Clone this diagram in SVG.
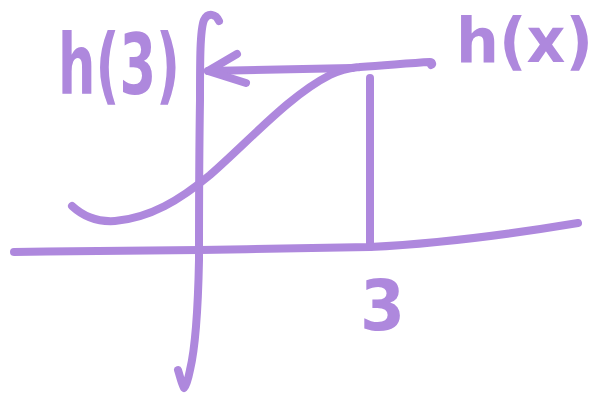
<svg xmlns="http://www.w3.org/2000/svg" width="608" height="398" viewBox="0 0 608 398">
<style>
.m{fill:none;stroke:#ae88dd;stroke-width:8;stroke-linecap:round;stroke-linejoin:round}
.t{fill:#ae88dd;font-family:"DejaVu Sans",sans-serif;font-weight:bold}
</style>
<rect width="608" height="398" fill="#ffffff"/>
<g id="axes">
<path class="m" d="M14,252 C80,251 150,250 200,250 C260,249 330,248 370,247 C430,244 500,236 578,223"/>
<path class="m" d="M219,21 C216,14 208,12 204,20 C200,30 200,60 200,100 C199,160 199,220 199,260 C198,310 196,345 190,370 C188,380 186,386 184,388 C181,382 180,376 178,370"/>
</g>
<g id="curve">
<path class="m" d="M72,206 C85,218 100,222 115,221 C150,218 180,200 210,175 C250,140 290,95 330,75 C345,68 352,68 360,67 C390,65 410,63 430,62 C432,62 433,64 431,65"/>
</g>
<g id="connectors">
<path class="m" d="M370,78 L370,247"/>
<path class="m" d="M352,68 C300,69 250,70 208,71"/>
<path class="m" d="M237,54 L208,71 L246,83"/>
</g>
<g id="labels">
<text class="t" x="58" y="94" font-size="84" textLength="122" lengthAdjust="spacingAndGlyphs">h(3)</text>
<text class="t" x="456" y="62" font-size="62" textLength="137" lengthAdjust="spacingAndGlyphs">h(x)</text>
<text class="t" x="360" y="330" font-size="70" textLength="45" lengthAdjust="spacingAndGlyphs">3</text>
</g>
</svg>
